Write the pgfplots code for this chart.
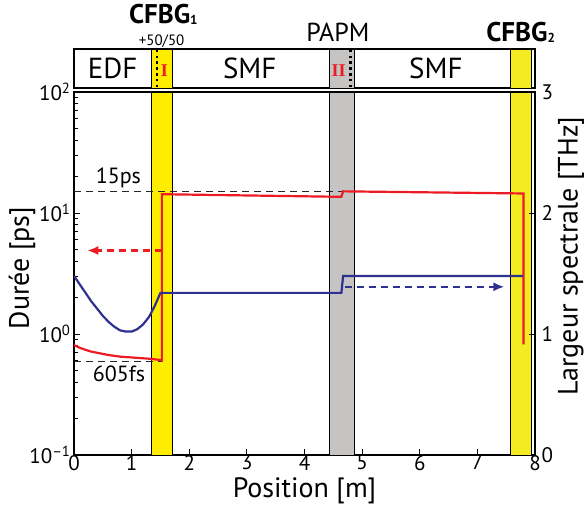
\documentclass[border=0pt]{standalone}
\usepackage{pgfplots}
\pgfplotsset{compat=1.18}
\usepackage{fontspec}
\setmainfont{PT Sans}
\newfontfamily\serifI{Liberation Serif}
\usetikzlibrary{arrows.meta}
\definecolor{myred}{HTML}{ED1C24}
\definecolor{myblue}{HTML}{2E3192}
\definecolor{yelA}{HTML}{FFED00}
\definecolor{yelB}{HTML}{F4EB22}
\definecolor{mygray}{HTML}{C5C4C3}
\begin{document}
\begin{tikzpicture}
\useasboundingbox (0,0) rectangle (585pt,506pt);
% ---------- top strip ----------
\begin{axis}[
  at={(74pt,418pt)}, anchor=south west, scale only axis,
  width=461pt, height=39pt,
  xmin=0, xmax=8, ymin=0, ymax=1,
  xtick=\empty, ytick=\empty,
  axis line style={line width=1.1pt},
  clip=false,
]
\addplot[fill=yelA, draw=black, line width=0.8pt] coordinates {(1.35,0) (1.35,1) (1.70,1) (1.70,0)} -- cycle;
\addplot[fill=mygray, draw=black, line width=0.8pt] coordinates {(4.43,0) (4.43,1) (4.86,1) (4.86,0)} -- cycle;
\addplot[fill=yelB, draw=black, line width=0.8pt] coordinates {(7.57,0) (7.57,1) (7.93,1) (7.93,0)} -- cycle;
\addplot[black, line width=2.6pt, dash pattern=on 2.6pt off 3.2pt] coordinates {(1.44,0.02) (1.44,1)};
\addplot[black, line width=2.6pt, dash pattern=on 2.6pt off 3.2pt] coordinates {(4.80,0.02) (4.80,1)};
\node[font=\fontsize{29}{29}\selectfont] at (axis cs:0.67,0.5) {EDF};
\node[font=\fontsize{29}{29}\selectfont] at (axis cs:3.05,0.5) {SMF};
\node[font=\fontsize{29}{29}\selectfont] at (axis cs:6.28,0.5) {SMF};
\node[font=\serifI\bfseries\fontsize{18}{18}\selectfont, text=myred] at (axis cs:1.57,0.45) {I};
\node[font=\serifI\bfseries\fontsize{18}{18}\selectfont, text=myred] at (axis cs:4.59,0.45) {II};
\node[font=\bfseries\fontsize{27}{27}\selectfont] at (axis cs:1.55,1.88) {CFBG\raisebox{-1pt}{\fontsize{13}{13}\selectfont 1}};
\node[font=\fontsize{15}{15}\selectfont] at (axis cs:1.52,1.2) {+50/50};
\node[font=\fontsize{26}{26}\selectfont] at (axis cs:4.58,1.42) {PAPM};
\node[font=\bfseries\fontsize{27}{27}\selectfont] at (axis cs:7.75,1.42) {CFBG\raisebox{-1pt}{\fontsize{13}{13}\selectfont 2}};
\end{axis}
% ---------- main axis (left, log) ----------
\begin{axis}[
  at={(74pt,51pt)}, anchor=south west, scale only axis,
  width=461pt, height=363pt,
  xmin=0, xmax=8, ymode=log, ymin=0.1, ymax=100,
  xtick={0,1,2,3,4,5,6,7,8},
  ytick={0.1,1,10,100},
  yticklabels={10\textsuperscript{\textendash1},10\textsuperscript{0},10\textsuperscript{1},10\textsuperscript{2}},
  minor ytick={0.2,0.3,0.4,0.5,0.6,0.7,0.8,0.9,2,3,4,5,6,7,8,9,20,30,40,50,60,70,80,90},
  tick pos=left, tick align=inside,
  major tick length=6pt, minor tick length=3.5pt,
  tick style={black, line width=0.9pt},
  axis line style={line width=1.1pt},
  /pgf/number format/assume math mode=true,
  tick label style={font=\fontsize{21}{21}\selectfont},
  xticklabel style={inner sep=1pt, yshift=1pt},
  xlabel={Position [m]},
  ylabel={Durée [ps]},
  label style={font=\fontsize{28}{28}\selectfont},
  xlabel style={at={(axis description cs:0.5,-0.135)}, anchor=south, inner sep=0pt},
  ylabel style={at={(axis description cs:-0.113,0.515)}, anchor=center},
  clip mode=individual,
]
\addplot[fill=yelA, draw=black, line width=0.8pt] coordinates {(1.35,0.1) (1.35,100) (1.70,100) (1.70,0.1)} -- cycle;
\addplot[fill=mygray, draw=black, line width=0.8pt] coordinates {(4.43,0.1) (4.43,100) (4.86,100) (4.86,0.1)} -- cycle;
\addplot[fill=yelB, draw=black, line width=0.8pt] coordinates {(7.57,0.1) (7.57,100) (7.93,100) (7.93,0.1)} -- cycle;
% reference dashed lines
\addplot[black!85, line width=0.9pt, dash pattern=on 7pt off 5pt] coordinates {(0,15.2) (4.66,15.2)};
\addplot[black!85, line width=0.9pt, dash pattern=on 7pt off 5pt] coordinates {(0,0.598) (1.52,0.598)};
\node[anchor=south, inner sep=2pt, font=\fontsize{22}{22}\selectfont] at (axis cs:0.77,15.6) {15ps};
\node[anchor=north, inner sep=3pt, font=\fontsize{22}{22}\selectfont] at (axis cs:0.78,0.585) {605fs};
% duration (red)
\addplot[myred, line width=2.2pt] coordinates {
  (0,0.81) (0.1,0.77) (0.2,0.74) (0.3,0.715) (0.4,0.70) (0.5,0.685) (0.6,0.67)
  (0.7,0.66) (0.8,0.65) (0.9,0.645) (1.0,0.64) (1.1,0.635) (1.2,0.63)
  (1.3,0.625) (1.4,0.618) (1.5,0.61) (1.525,0.605)
  (1.525,14.3) (4.64,13.6) (4.67,15.1) (7.80,14.5) (7.80,0.82)};
\addplot[myred, line width=2.2pt, dash pattern=on 7pt off 5pt, -{Latex[length=11pt,width=9pt]}] coordinates {(1.52,4.9) (0.23,4.9)};
\end{axis}
% ---------- right axis (linear) ----------
\begin{axis}[
  at={(74pt,51pt)}, anchor=south west, scale only axis,
  width=461pt, height=363pt,
  xmin=0, xmax=8, ymin=0, ymax=3,
  axis x line=none, axis y line*=right,
  ytick={0,1,2,3},
  tick align=inside, major tick length=6pt,
  tick style={black, line width=0.9pt},
  axis line style={line width=1.1pt},
  /pgf/number format/assume math mode=true,
  tick label style={font=\fontsize{21}{21}\selectfont},
  yticklabel style={xshift=3pt},
  ylabel={Largeur spectrale [THz]},
  label style={font=\fontsize{28}{28}\selectfont},
  ylabel style={at={(axis description cs:1.078,0.548)}, anchor=center},
]
\addplot[myblue, line width=2.2pt] coordinates {
  (0,1.48) (0.1,1.41) (0.2,1.34) (0.3,1.27) (0.4,1.21) (0.5,1.15) (0.6,1.10)
  (0.7,1.06) (0.8,1.03) (0.9,1.02) (1.0,1.02) (1.1,1.04) (1.2,1.08)
  (1.3,1.14) (1.4,1.23) (1.5,1.34) (4.64,1.34) (4.67,1.48) (7.79,1.48)};
\addplot[myblue, line width=2.2pt, dash pattern=on 7pt off 5pt, -{Latex[length=11pt,width=9pt]}] coordinates {(4.71,1.39) (7.47,1.39)};
\end{axis}
\end{tikzpicture}
\end{document}
